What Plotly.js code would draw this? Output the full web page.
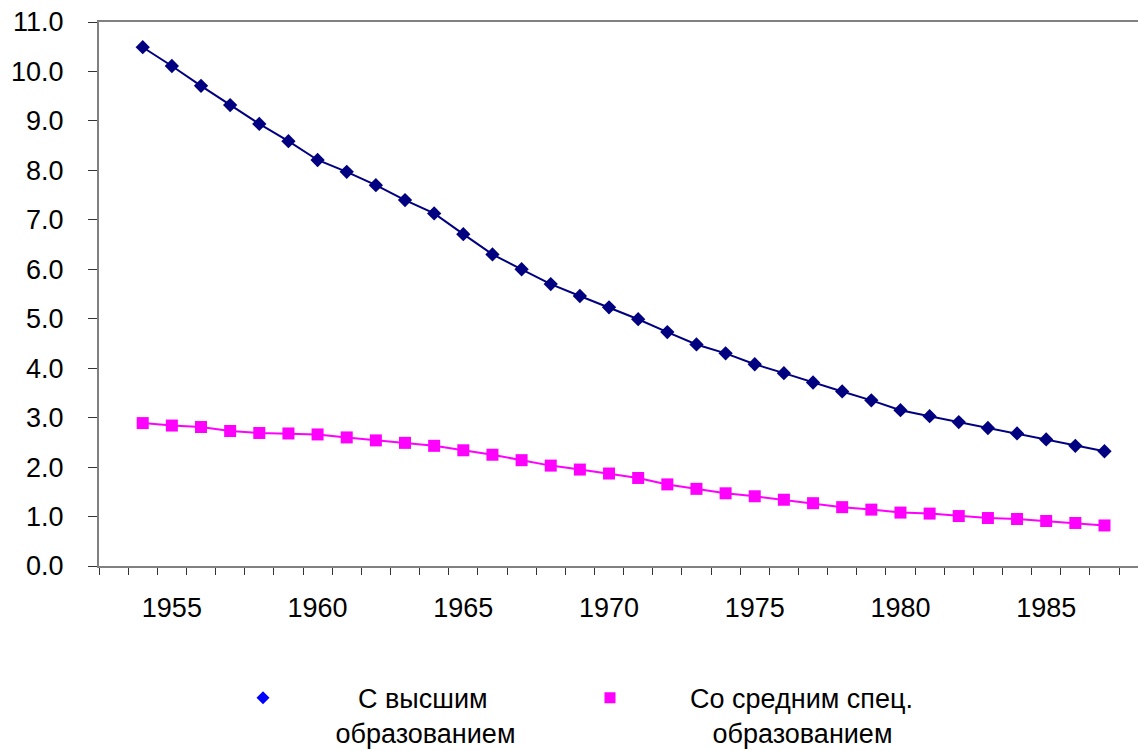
<!DOCTYPE html>
<html>
<head>
<meta charset="utf-8">
<script src="https://cdn.plot.ly/plotly-3.0.1.min.js"></script>
<style>html,body{margin:0;padding:0;background:#fff;}#chart{width:1138px;height:751px;}</style>
</head>
<body>
<div id="chart"></div>
<script>
var years = [1954,1955,1956,1957,1958,1959,1960,1961,1962,1963,1964,1965,1966,1967,1968,1969,1970,
             1971,1972,1973,1974,1975,1976,1977,1978,1979,1980,1981,1982,1983,1984,1985,1986,1987];
var higherEdu = [10.49,10.11,9.71,9.32,8.94,8.59,8.21,7.97,7.70,7.40,7.13,6.71,6.30,6.00,5.70,5.46,5.23,
                 4.99,4.73,4.48,4.30,4.08,3.90,3.71,3.53,3.35,3.15,3.03,2.91,2.79,2.68,2.56,2.43,2.32];
var specEdu = [2.89,2.84,2.81,2.73,2.69,2.68,2.66,2.60,2.54,2.49,2.43,2.34,2.25,2.14,2.03,1.95,1.87,
               1.78,1.65,1.56,1.47,1.41,1.34,1.27,1.19,1.14,1.08,1.06,1.01,0.97,0.95,0.91,0.87,0.82];
var xTickVals = [1955,1960,1965,1970,1975,1980,1985];
var xTickText = ['1955','1960','1965','1970','1975','1980','1985'];
var seriesNames = ['С высшим<br>образованием', 'Со средним спец.<br>образованием'];

function pad(n){ return '\u00A0'.repeat(n); }
var legendNames = [
  pad(10) + 'С высшим<br>' + pad(7) + 'образованием',
  pad(8) + 'Со средним спец.<br>' + pad(11) + 'образованием'
];

var FONT = '"Liberation Sans", Arial, sans-serif';

var traces = [
  {x: years, y: higherEdu, type: 'scatter', mode: 'lines+markers', name: seriesNames[0], showlegend: false,
   line: {color: '#000080', width: 2}, marker: {symbol: 'diamond', size: 11, color: '#000080'}},
  {x: years, y: specEdu, type: 'scatter', mode: 'lines+markers', name: seriesNames[1], showlegend: false,
   line: {color: '#FF00FF', width: 2}, marker: {symbol: 'square', size: 12, color: '#FF00FF'}},
  {x: [null], y: [null], type: 'scatter', mode: 'markers', name: legendNames[0], showlegend: true,
   marker: {symbol: 'diamond', size: 10, color: '#0000FF'}},
  {x: [null], y: [null], type: 'scatter', mode: 'markers', name: legendNames[1], showlegend: true,
   marker: {symbol: 'square', size: 11, color: '#FF00FF'}}
];

var layout = {
  width: 1138, height: 751,
  margin: {l: 99, r: 0, t: 22, b: 185, pad: 0, autoexpand: false},
  paper_bgcolor: '#ffffff', plot_bgcolor: '#ffffff',
  font: {family: FONT, size: 27, color: '#000000'},
  showlegend: true,
  legend: {orientation: 'h', x: 0.1386, xanchor: 'left', y: -0.198, yanchor: 'top',
           font: {family: FONT, size: 27, color: '#000'}, valign: 'top',
           entrywidth: 302, entrywidthmode: 'pixels', bgcolor: 'rgba(0,0,0,0)', borderwidth: 0},
  xaxis: {
    range: [1952.5, 1988.15], showgrid: false, zeroline: false,
    showline: true, linecolor: '#808080', linewidth: 2, mirror: true,
    tickmode: 'array', tickvals: xTickVals, ticktext: xTickText, ticks: '',
    ticklabelstandoff: 17, tickfont: {family: FONT, size: 27, color: '#000'},
    minor: {tick0: 1952.5, dtick: 1, ticks: 'outside', ticklen: 7, tickwidth: 1, tickcolor: '#333', showgrid: false}
  },
  yaxis: {
    range: [0, 11], dtick: 1, tick0: 0, tickformat: '.1f', showgrid: false, zeroline: false,
    showline: true, linecolor: '#808080', linewidth: 2,
    ticks: 'outside', ticklen: 9, tickwidth: 1, tickcolor: '#333',
    ticklabelstandoff: 19, tickfont: {family: FONT, size: 27, color: '#000'}
  }
};

Plotly.newPlot('chart', traces, layout, {staticPlot: true, displayModeBar: false});
</script>
</body>
</html>
